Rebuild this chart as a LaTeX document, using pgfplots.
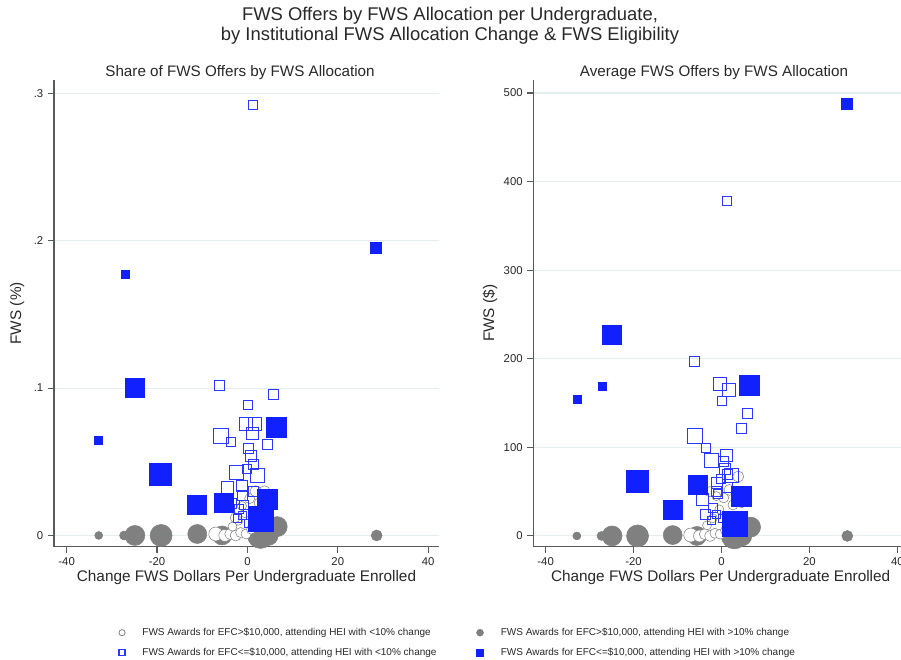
\documentclass[border=0pt]{standalone}
\usepackage{fontspec}
\setmainfont{Liberation Sans}
\usepackage{pgfplots}
\usepackage{pgfplotstable}
\pgfplotsset{compat=1.18}

\definecolor{fblue}{RGB}{16,32,255}
\definecolor{hblue}{RGB}{40,56,255}
\definecolor{fgray}{RGB}{128,128,128}
\definecolor{gridc}{RGB}{228,238,240}
\definecolor{axc}{RGB}{90,90,90}
\definecolor{txt}{RGB}{40,40,40}

% x = change in FWS dollars per undergraduate, yL = share, yR = average $, s = marker size (px)
\pgfplotstableread{
x yL yR s
-32.9 0 0 8
-27.3 0 0 9
-24.9 0 0 20
-19.1 0 0 22
-11.1 0.001 1 19
-5.6 0 0 19
2.9 0 0 26
4.6 0 0 20
6.6 0.006 10 20
28.6 0 0 11
}\grayfilled

\pgfplotstableread{
x yL yR s
-7.0 0.001 1 14
-5.0 0.000 0 12
-3.8 0.001 2 11
-2.6 0.000 0 11
-1.5 0.002 3 10
-0.3 0.001 2 10
0.8 0.004 6 9
-2.0 0.010 20 9
-0.5 0.015 30 9
0.5 0.025 43 10
1.8 0.030 52 11
2.6 0.022 35 10
-1.2 0.020 45 9
-2.7 0.012 50 10
4.6 0.006 38 11
3.8 0.030 67 11
-3.3 0.006 12 9
}\grayhollow

\pgfplotstableread{
x yL yR s
1.1 0.292 378 9
-6.2 0.1016 197 10
0.1 0.0887 152.5 9
5.8 0.0960 139 10
-6.0 0.0674 112.7 15
-3.6 0.0633 100 9
4.4 0.0620 121 10
-2.4 0.0430 85.7 14
-0.4 0.0757 172 13
1.6 0.0757 165.5 13
1.0 0.0690 91 12
0.3 0.0590 84 10
0.7 0.0540 76 11
1.4 0.0486 70 10
2.1 0.0407 69 14
-4.4 0.0330 41 12
-1.2 0.0340 60 11
-1.2 0.0270 50 10
-0.8 0.0205 48 9
-1.9 0.0180 31.5 9
-1.2 0.0137 24 8
-2.3 0.0115 18 8
-3.6 0.0220 24 10
0.2 0.0080 20 8
1.3 0.0300 55 10
-0.2 0.0450 64 9
}\bluehollow

\pgfplotstableread{
x yL yR s
-32.9 0.0644 154.3 8
-27.1 0.1775 169.3 8
-25.0 0.1002 226.9 19
-19.2 0.0417 61.3 22
-11.2 0.0210 29.3 19
-5.3 0.0223 57.6 19
4.5 0.0245 45.1 20
2.9 0.0115 13.5 25
6.3 0.0734 170.4 20
28.4 0.1950 487.6 11
}\bluefilled

\pgfplotsset{
  fwsaxis/.style={
    scale only axis, clip=false,
    axis x line=bottom, axis y line=left,
    axis line style={-, draw=axc, line width=1pt},
    tick align=outside, major tick length=4.5pt,
    tick style={draw=axc, line width=0.8pt},
    minor tick num=0,
    xmin=-42.8, xmax=42.4,
    xtick={-40,-20,0,20,40}, xticklabels={-40,-20,0,20,40},
    ymajorgrids, major grid style={draw=gridc, line width=0.8pt},
    tick label style={font=\fontsize{8.5}{10}\selectfont, text=txt},
    label style={font=\fontsize{11.5}{13}\selectfont, text=txt},
    xlabel={Change FWS Dollars Per Undergraduate Enrolled},
    xlabel style={at={(axis description cs:0.5,-0.067)}, anchor=center},
    point meta min=0, point meta max=100,
  },
  gf/.style={forget plot, only marks, scatter, mark=*, color=fgray,
    scatter/use mapped color={draw=fgray, fill=fgray},
    visualization depends on={0.375*\thisrow{s} \as \ms},
    scatter/@pre marker code/.append style={/tikz/mark size=\ms, /tikz/line width=0.4pt, /tikz/draw=fgray, /tikz/fill=fgray}},
  gh/.style={forget plot, only marks, scatter, mark=*, color=fgray,
    scatter/use mapped color={draw=fgray, fill=white},
    visualization depends on={0.375*\thisrow{s} \as \ms},
    scatter/@pre marker code/.append style={/tikz/mark size=\ms, /tikz/line width=0.6pt, /tikz/draw=fgray, /tikz/fill=white}},
  bh/.style={forget plot, only marks, scatter, mark=square, color=hblue,
    scatter/use mapped color={draw=hblue},
    visualization depends on={0.375*\thisrow{s} \as \ms},
    scatter/@pre marker code/.append style={/tikz/mark size=\ms, /tikz/line width=1.1pt, /tikz/draw=hblue}},
  bf/.style={forget plot, only marks, scatter, mark=square*, color=fblue,
    scatter/use mapped color={draw=fblue, fill=fblue},
    visualization depends on={0.375*\thisrow{s} \as \ms},
    scatter/@pre marker code/.append style={/tikz/mark size=\ms, /tikz/line width=0.4pt, /tikz/draw=fblue, /tikz/fill=fblue}},
}

\begin{document}
\begin{tikzpicture}
% overall title
\node[align=center, font=\fontsize{13.8}{15.3}\selectfont, text=txt] at (337.5pt,475.5pt)
  {FWS Offers by FWS Allocation per Undergraduate,\\by Institutional FWS Allocation Change \& FWS Eligibility};
\node[font=\fontsize{11.4}{13}\selectfont, text=txt] at (180pt,440.25pt) {Share of FWS Offers by FWS Allocation};
\node[font=\fontsize{11.4}{13}\selectfont, text=txt] at (535.5pt,440.25pt) {Average FWS Offers by FWS Allocation};

\begin{axis}[fwsaxis, at={(40.5pt,85pt)}, anchor=south west,
  width=288.75pt, height=350pt,
  ymin=-0.0076, ymax=0.309,
  ytick={0,0.1,0.2,0.3}, yticklabels={0,.1,.2,.3},
  ylabel={FWS (\%)},
  ylabel style={at={(axis description cs:-0.096,0.5)}, anchor=center},
  legend columns=2,
  legend cell align=left,
  legend style={at={(axis description cs:0.168,-0.168)}, anchor=north west,
    draw=none, fill=none, font=\fontsize{7.5}{9}\selectfont, text=txt,
    inner sep=0pt, row sep=4pt,
    /tikz/every odd column/.append style={column sep=11pt},
    /tikz/every even column/.append style={column sep=28pt}},
]
\addlegendimage{only marks, mark=*, mark size=2.3pt, mark options={draw=fgray, fill=white, line width=0.6pt}}
\addlegendentry{FWS Awards for EFC>\$10,000, attending HEI with <10\% change}
\addlegendimage{only marks, mark=*, mark size=2.6pt, mark options={draw=fgray, fill=fgray}}
\addlegendentry{FWS Awards for EFC>\$10,000, attending HEI with >10\% change}
\addlegendimage{only marks, mark=square, mark size=2.2pt, mark options={draw=hblue, line width=0.9pt}}
\addlegendentry{FWS Awards for EFC<=\$10,000, attending HEI with <10\% change}
\addlegendimage{only marks, mark=square*, mark size=2.6pt, mark options={draw=fblue, fill=fblue}}
\addlegendentry{FWS Awards for EFC<=\$10,000, attending HEI with >10\% change}
\addplot[gf] table[x=x, y=yL] {\grayfilled};
\addplot[gh] table[x=x, y=yL] {\grayhollow};
\addplot[bh] table[x=x, y=yL] {\bluehollow};
\addplot[bf] table[x=x, y=yL] {\bluefilled};
\end{axis}

\begin{axis}[fwsaxis, at={(400pt,85pt)}, anchor=south west,
  width=281pt, height=350pt,
  ymin=-12.1, ymax=514.7,
  ytick={0,100,200,300,400,500}, yticklabels={0,100,200,300,400,500},
  ylabel={FWS (\$)},
  ylabel style={at={(axis description cs:-0.1156,0.5)}, anchor=center},
]
\addplot[gf] table[x=x, y=yR] {\grayfilled};
\addplot[gh] table[x=x, y=yR] {\grayhollow};
\addplot[bh] table[x=x, y=yR] {\bluehollow};
\addplot[bf] table[x=x, y=yR] {\bluefilled};
\end{axis}
\pgfresetboundingbox
\useasboundingbox (0,0) rectangle (675.75pt,495pt);
\end{tikzpicture}
\end{document}
